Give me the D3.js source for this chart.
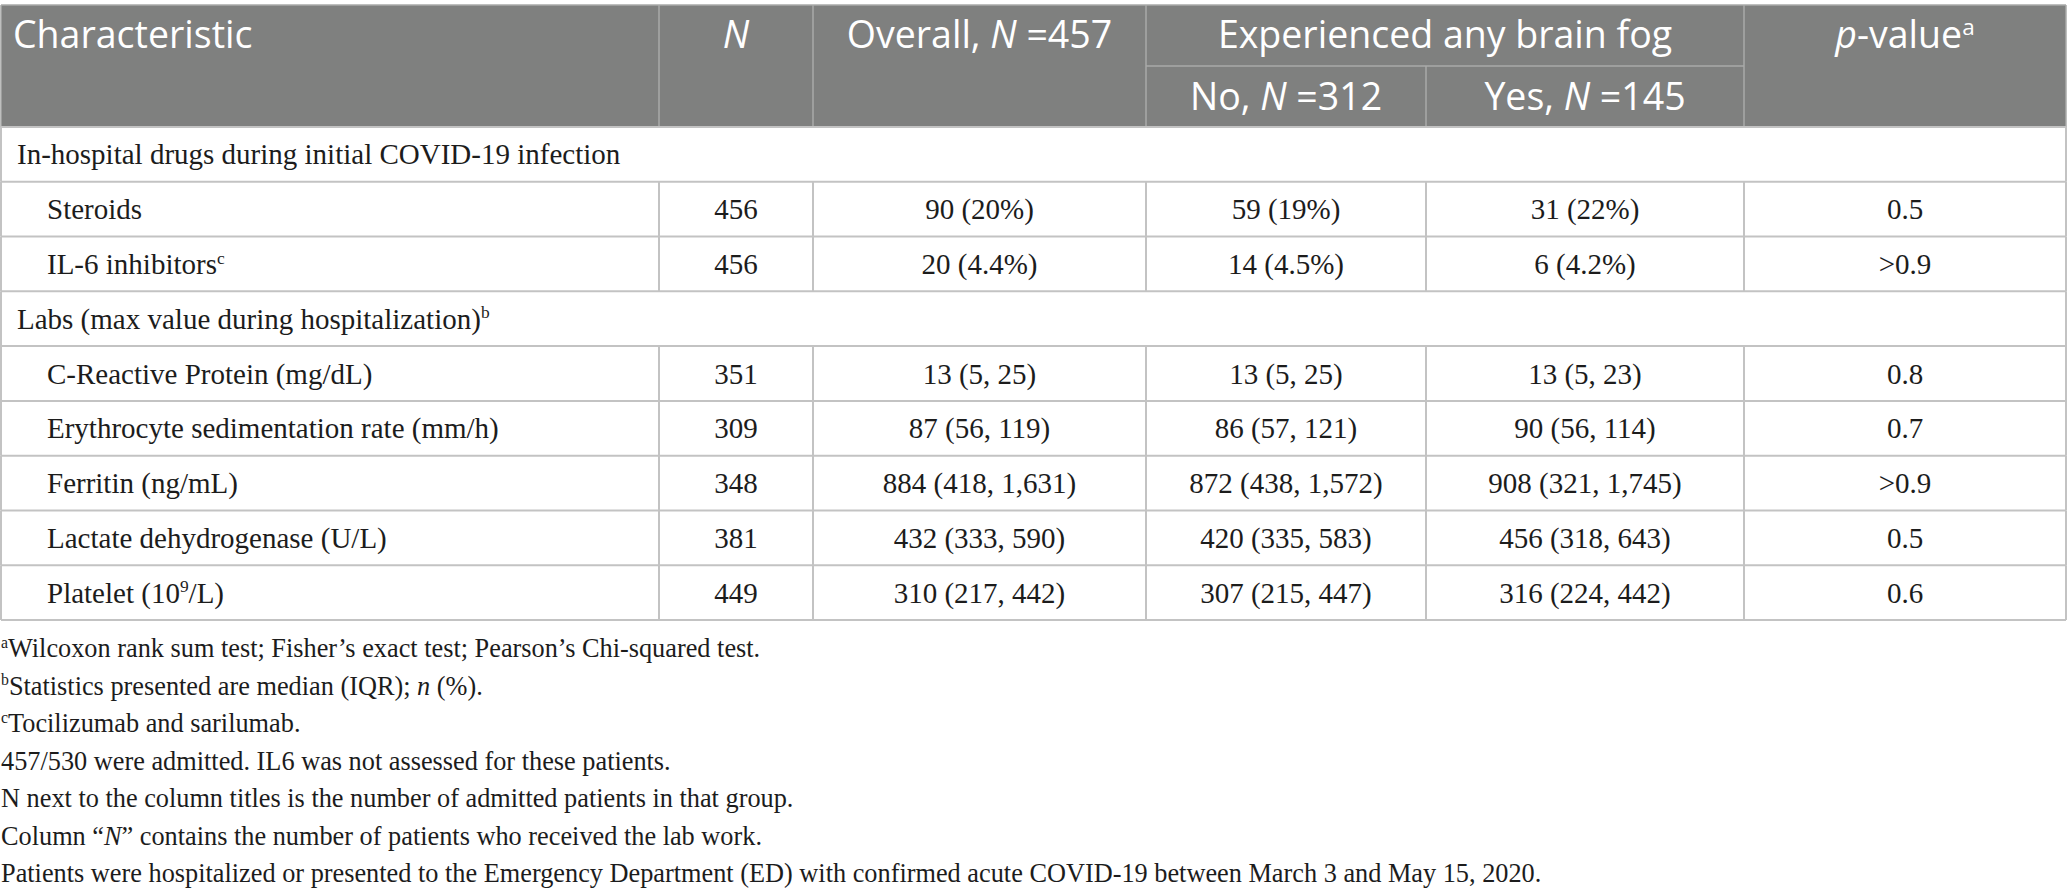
<!DOCTYPE html>
<html><head><meta charset="utf-8">
<script src="https://cdn.jsdelivr.net/npm/d3@7"></script>
<style>html,body{margin:0;padding:0;background:#fff;}svg{display:block;}</style>
</head><body>
<svg id="chart" width="2067" height="896"></svg>
<script>
// ---------- data ----------
const headerTop = ["Characteristic", "*N*", "Overall, *N* =457", "Experienced any brain fog", "*p*-value^a"];
const headerSub = ["No, *N* =312", "Yes, *N* =145"];
const rowLabels = [
  "In-hospital drugs during initial COVID-19 infection",
  "Steroids",
  "IL-6 inhibitors^c",
  "Labs (max value during hospitalization)^b",
  "C-Reactive Protein (mg/dL)",
  "Erythrocyte sedimentation rate (mm/h)",
  "Ferritin (ng/mL)",
  "Lactate dehydrogenase (U/L)",
  "Platelet (10^9/L)"
];
const isGroup = [true, false, false, true, false, false, false, false, false];
const nValues = [null, "456", "456", null, "351", "309", "348", "381", "449"];
const overallValues = [null, "90 (20%)", "20 (4.4%)", null, "13 (5, 25)", "87 (56, 119)", "884 (418, 1,631)", "432 (333, 590)", "310 (217, 442)"];
const noFogValues = [null, "59 (19%)", "14 (4.5%)", null, "13 (5, 25)", "86 (57, 121)", "872 (438, 1,572)", "420 (335, 583)", "307 (215, 447)"];
const yesFogValues = [null, "31 (22%)", "6 (4.2%)", null, "13 (5, 23)", "90 (56, 114)", "908 (321, 1,745)", "456 (318, 643)", "316 (224, 442)"];
const pValues = [null, "0.5", ">0.9", null, "0.8", "0.7", ">0.9", "0.5", "0.6"];
const footnotes = [
  "^aWilcoxon rank sum test; Fisher’s exact test; Pearson’s Chi-squared test.",
  "^bStatistics presented are median (IQR); *n* (%).",
  "^cTocilizumab and sarilumab.",
  "457/530 were admitted. IL6 was not assessed for these patients.",
  "N next to the column titles is the number of admitted patients in that group.",
  "Column “*N*” contains the number of patients who received the lab work.",
  "Patients were hospitalized or presented to the Emergency Department (ED) with confirmed acute COVID-19 between March 3 and May 15, 2020."
];

// ---------- layout ----------
const layout = {
  left: 1, right: 2066,
  colWidths: [658, 154, 333, 280, 318, 322],
  headTop: 5, headMid: 66, headBottom: 127, bodyBottom: 620,
  headFill: "#7f807f", headLine: "#a9aaa9", gridLine: "#c3c3c3",
  headFont: "'Open Sans', 'Noto Sans', sans-serif", headSize: 37.5,
  bodyFont: "'Liberation Serif', 'Times New Roman', serif", bodySize: 29,
  footSize: 26.3, footFirst: 657, footStep: 37.5,
  textColor: "#1c1c1c"
};

const svg = d3.select("#chart");
const edges = [layout.left, ...d3.cumsum(layout.colWidths).map(v => v + layout.left)];
const colX = d3.scaleOrdinal().domain(d3.range(edges.length)).range(edges);
const colCenter = i => (colX(i) + colX(i + 1)) / 2;
const y = d3.scaleBand().domain(d3.range(rowLabels.length)).range([layout.headBottom, layout.bodyBottom]).padding(0);

function rich(sel, str, size) {
  const parts = str.split(/(\^.|\*[^*]+\*)/).filter(s => s.length);
  let raised = false;
  const shift = size * 0.36;
  parts.forEach(p => {
    const t = sel.append("tspan");
    if (p[0] === "^") {
      t.text(p.slice(1)).attr("font-size", size * 0.6).attr("dy", raised ? 0 : -shift);
      raised = true;
    } else {
      if (raised) { t.attr("dy", shift); raised = false; }
      if (p[0] === "*") t.text(p.slice(1, -1)).attr("font-style", "italic");
      else t.text(p);
    }
  });
}

// ---------- header ----------
const gH = svg.append("g");
gH.append("rect").attr("x", layout.left).attr("y", layout.headTop)
  .attr("width", layout.right - layout.left).attr("height", layout.headBottom - layout.headTop)
  .attr("fill", layout.headFill);
const hLines = [
  [colX(1), layout.headTop, colX(1), layout.headBottom],
  [colX(2), layout.headTop, colX(2), layout.headBottom],
  [colX(3), layout.headTop, colX(3), layout.headBottom],
  [colX(5), layout.headTop, colX(5), layout.headBottom],
  [colX(4), layout.headMid, colX(4), layout.headBottom],
  [colX(3), layout.headMid, colX(5), layout.headMid],
  [layout.left, layout.headTop, layout.right, layout.headTop],
  [layout.left, layout.headTop, layout.left, layout.headBottom],
  [layout.right, layout.headTop, layout.right, layout.headBottom]
];
gH.selectAll("line").data(hLines).join("line")
  .attr("x1", d => d[0]).attr("y1", d => d[1]).attr("x2", d => d[2]).attr("y2", d => d[3])
  .attr("stroke", layout.headLine).attr("stroke-width", 1.5);

const topBase = layout.headTop + 43;
const subBase = layout.headMid + 44;
const headPos = [
  {x: colX(0) + 12, anchor: "start"},
  {x: colCenter(1), anchor: "middle"},
  {x: colCenter(2), anchor: "middle"},
  {x: (colX(3) + colX(5)) / 2, anchor: "middle"},
  {x: colCenter(5), anchor: "middle"}
];
headerTop.forEach((h, i) => {
  const t = gH.append("text").attr("x", headPos[i].x).attr("y", topBase)
    .attr("text-anchor", headPos[i].anchor).attr("fill", "#fff")
    .attr("font-family", layout.headFont).attr("font-size", layout.headSize);
  rich(t, h, layout.headSize);
});
headerSub.forEach((h, i) => {
  const t = gH.append("text").attr("x", colCenter(3 + i)).attr("y", subBase)
    .attr("text-anchor", "middle").attr("fill", "#fff")
    .attr("font-family", layout.headFont).attr("font-size", layout.headSize);
  rich(t, h, layout.headSize);
});

// ---------- body ----------
const gB = svg.append("g");
const rows = d3.range(rowLabels.length);
gB.selectAll("line.h").data(rows.concat([rowLabels.length])).join("line").attr("class", "h")
  .attr("x1", layout.left).attr("x2", layout.right)
  .attr("y1", d => d < rowLabels.length ? y(d) : layout.bodyBottom)
  .attr("y2", d => d < rowLabels.length ? y(d) : layout.bodyBottom)
  .attr("stroke", layout.gridLine).attr("stroke-width", 2);
rows.forEach(r => {
  const cols = isGroup[r] ? [0, 6] : [0, 1, 2, 3, 4, 5, 6];
  cols.forEach(c => {
    gB.append("line").attr("x1", colX(c)).attr("x2", colX(c))
      .attr("y1", y(r)).attr("y2", y(r) + y.bandwidth())
      .attr("stroke", layout.gridLine).attr("stroke-width", 2);
  });
});
const valueCols = [nValues, overallValues, noFogValues, yesFogValues, pValues];
rows.forEach(r => {
  const base = y(r) + y.bandwidth() / 2 + 10;
  const t = gB.append("text").attr("x", colX(0) + (isGroup[r] ? 16 : 46)).attr("y", base)
    .attr("font-family", layout.bodyFont).attr("font-size", layout.bodySize).attr("fill", layout.textColor);
  rich(t, rowLabels[r], layout.bodySize);
  valueCols.forEach((arr, j) => {
    if (arr[r] == null) return;
    gB.append("text").attr("x", colCenter(j + 1)).attr("y", base).attr("text-anchor", "middle")
      .attr("font-family", layout.bodyFont).attr("font-size", layout.bodySize).attr("fill", layout.textColor)
      .text(arr[r]);
  });
});

// ---------- footnotes ----------
const gF = svg.append("g");
footnotes.forEach((f, i) => {
  const t = gF.append("text").attr("x", 1).attr("y", layout.footFirst + i * layout.footStep)
    .attr("font-family", layout.bodyFont).attr("font-size", layout.footSize).attr("fill", layout.textColor);
  rich(t, f, layout.footSize);
});
</script>
</body></html>
